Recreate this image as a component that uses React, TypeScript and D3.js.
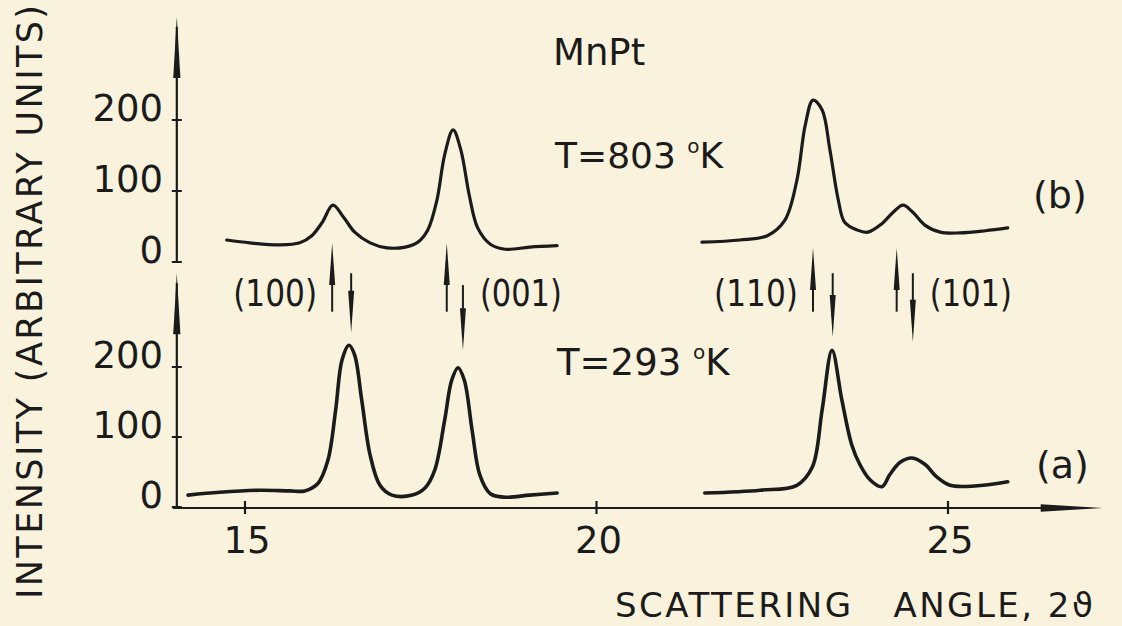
import React from "react"
import * as d3 from "d3"

const width = 1122
const height = 626
const ink = "#1b1b1b"
const paper = "#f9f3dd"
const font = "DejaVu Sans"

// [2θ, intensity], T = 803 K (b)
const bLeft: [number, number][] = [
    [14.74, 31], [15.07, 27], [15.5, 24], [15.78, 27], [15.95, 37], [16.1, 56],
    [16.25, 80], [16.41, 62], [16.56, 42], [16.78, 27], [17.02, 20], [17.28, 21],
    [17.46, 28], [17.6, 45], [17.73, 87], [17.84, 151], [17.96, 186], [18.07, 158],
    [18.19, 94], [18.31, 48], [18.49, 25], [18.7, 18], [19.05, 21], [19.44, 23],
]
const bRight: [number, number][] = [
    [21.5, 28], [22.04, 31], [22.43, 37], [22.68, 59], [22.85, 115], [22.97, 193],
    [23.08, 228], [23.21, 214], [23.32, 158], [23.44, 87], [23.53, 56], [23.71, 45],
    [23.86, 42], [24.06, 54], [24.22, 70], [24.36, 80], [24.5, 70], [24.67, 52],
    [24.89, 42], [25.17, 41], [25.53, 44], [25.85, 48],
]
// T = 293 K (a)
const aLeft: [number, number][] = [
    [14.19, 17], [14.64, 21], [15.21, 24], [15.64, 23], [15.85, 23], [16.04, 34],
    [16.18, 67], [16.29, 139], [16.38, 210], [16.48, 231], [16.56, 217], [16.66, 153],
    [16.78, 74], [16.92, 31], [17.09, 17], [17.38, 17], [17.56, 27], [17.7, 53],
    [17.84, 124], [17.94, 181], [18.03, 199], [18.12, 181], [18.23, 110], [18.34, 46],
    [18.49, 19], [18.7, 14], [19.05, 17], [19.44, 20],
]
const aRight: [number, number][] = [
    [21.54, 20], [22.33, 24], [22.85, 31], [23.07, 57], [23.21, 139], [23.35, 224],
    [23.49, 153], [23.63, 89], [23.75, 60], [23.89, 39], [24.06, 29], [24.17, 46],
    [24.32, 64], [24.49, 70], [24.67, 61], [24.84, 43], [25.03, 31], [25.38, 30],
    [25.85, 36],
]

const xTicks = [15, 20, 25]
const yTicks = [0, 100, 200]

const reflections = ["(100)", "(001)", "(110)", "(101)"]
const upArrows = [16.24, 17.87, 23.08, 24.27]    // peak positions at 803 K
const downArrows = [16.51, 18.1, 23.36, 24.5]    // peak positions at 293 K
const downTips = [249, 224, 243, 236]             // in (a) intensity units
const labelSide = ["left", "right", "left", "right"]

const App = () => {
    const x = d3.scaleLinear().domain([15, 25]).range([245, 948])
    const yB = d3.scaleLinear().domain([0, 200]).range([262, 120])
    const yA = d3.scaleLinear().domain([0, 200]).range([507, 367])

    const lineB = d3.line<[number, number]>()
        .x(d => x(d[0])).y(d => yB(d[1]))
        .curve(d3.curveCatmullRom.alpha(0.5))
    const lineA = d3.line<[number, number]>()
        .x(d => x(d[0])).y(d => yA(d[1]))
        .curve(d3.curveCatmullRom.alpha(0.5))

    const axisX = x(14.03)
    const xEnd = x(27.2)

    // long thin filled arrowhead
    const head = (cx: number, tip: number, len: number, hw: number) =>
        `M${cx},${tip} L${cx - hw},${tip + len} L${cx + hw},${tip + len} Z`
    const headX = (tip: number, cy: number, len: number, hw: number) =>
        `M${tip},${cy} L${tip - len},${cy - hw} L${tip - len},${cy + hw} Z`

    const yAxis = (y: d3.ScaleLinear<number, number>, topVal: number) => {
        const top = y(topVal)
        return (
            <g>
                <line x1={axisX} x2={axisX} y1={y(0) + 1} y2={top + 10} stroke={ink} strokeWidth={2.2}/>
                <path d={head(axisX, top, 61, 3.6)} fill={ink}/>
                {yTicks.map(t => (
                    <g key={t}>
                        <line x1={axisX - 5} x2={axisX + 5} y1={y(t)} y2={y(t)} stroke={ink} strokeWidth={2}/>
                        <text x={163} y={y(t) + 1} textAnchor="end" fontSize={37}>{t}</text>
                    </g>
                ))}
            </g>
        )
    }

    return (
        <svg width={width} height={height} viewBox={`0 0 ${width} ${height}`}
             style={{position: "absolute", left: 0, top: 0, display: "block"}}
             fontFamily={font} fill={ink}>
            <rect width={width} height={height} fill={paper}/>

            {yAxis(yB, 345)}
            {yAxis(yA, 334)}

            {/* x axis */}
            <line x1={axisX - 4} x2={xEnd - 40} y1={yA(0) + 1} y2={yA(0) + 1} stroke={ink} strokeWidth={1.8}/>
            <path d={headX(xEnd, yA(0) + 1, 62, 3.8)} fill={ink}/>
            {xTicks.map(t => (
                <g key={t}>
                    <line x1={x(t)} x2={x(t)} y1={yA(0) - 6} y2={yA(0) + 7} stroke={ink} strokeWidth={2.2}/>
                    <text x={x(t) + 2} y={553} textAnchor="middle" fontSize={37}>{t}</text>
                </g>
            ))}

            {/* curves */}
            {[bLeft, bRight].map((d, i) => (
                <path key={"b" + i} d={lineB(d) ?? ""} fill="none" stroke={ink} strokeWidth={3.2}
                      strokeLinejoin="round" strokeLinecap="round"/>
            ))}
            {[aLeft, aRight].map((d, i) => (
                <path key={"a" + i} d={lineA(d) ?? ""} fill="none" stroke={ink} strokeWidth={3.6}
                      strokeLinejoin="round" strokeLinecap="round"/>
            ))}

            {/* reflection markers */}
            {reflections.map((r, i) => {
                const ux = x(upArrows[i])
                const dx = x(downArrows[i])
                const upTip = yA(i < 2 ? 377 : 370)
                const upEnd = yA(279)
                const dnStart = yA(i === 1 ? 317 : 334)
                const dnTip = yA(downTips[i])
                const left = labelSide[i] === "left"
                return (
                    <g key={r}>
                        <line x1={ux} x2={ux} y1={upTip + 20} y2={upEnd} stroke={ink} strokeWidth={2}/>
                        <path d={head(ux, upTip, 42, 3)} fill={ink}/>
                        <line x1={dx} x2={dx} y1={dnStart} y2={dnTip - 20} stroke={ink} strokeWidth={2}/>
                        <path d={head(dx, dnTip, -42, 3)} fill={ink}/>
                        <text x={left ? ux - 15 : dx + 17} y={306} textAnchor={left ? "end" : "start"}
                              fontSize={38} textLength={i === 1 || i === 3 ? 82 : 84}
                              lengthAdjust="spacingAndGlyphs">{r}</text>
                    </g>
                )
            })}

            {/* annotations */}
            <text x={553} y={65} fontSize={37}>MnPt</text>
            <text x={555} y={168} fontSize={36}>T=803 <tspan fontSize={20} dy={-15}>o</tspan><tspan dy={15} fontSize={36}>K</tspan></text>
            <text x={557} y={375} fontSize={37}>T=293 <tspan fontSize={20} dy={-16}>o</tspan><tspan dy={16} fontSize={37}>K</tspan></text>
            <text x={1033} y={208} fontSize={38}>(b)</text>
            <text x={1036} y={478} fontSize={38}>(a)</text>

            {/* axis titles */}
            <text transform="translate(42,599) rotate(-90)" fontSize={35} textLength={594}
                  lengthAdjust="spacing">INTENSITY (ARBITRARY UNITS)</text>
            <text x={615} y={617} fontSize={34} textLength={478} lengthAdjust="spacing"
                  style={{whiteSpace: "pre"}}>{"SCATTERING   ANGLE, 2ϑ"}</text>
        </svg>
    )
}

export default App
